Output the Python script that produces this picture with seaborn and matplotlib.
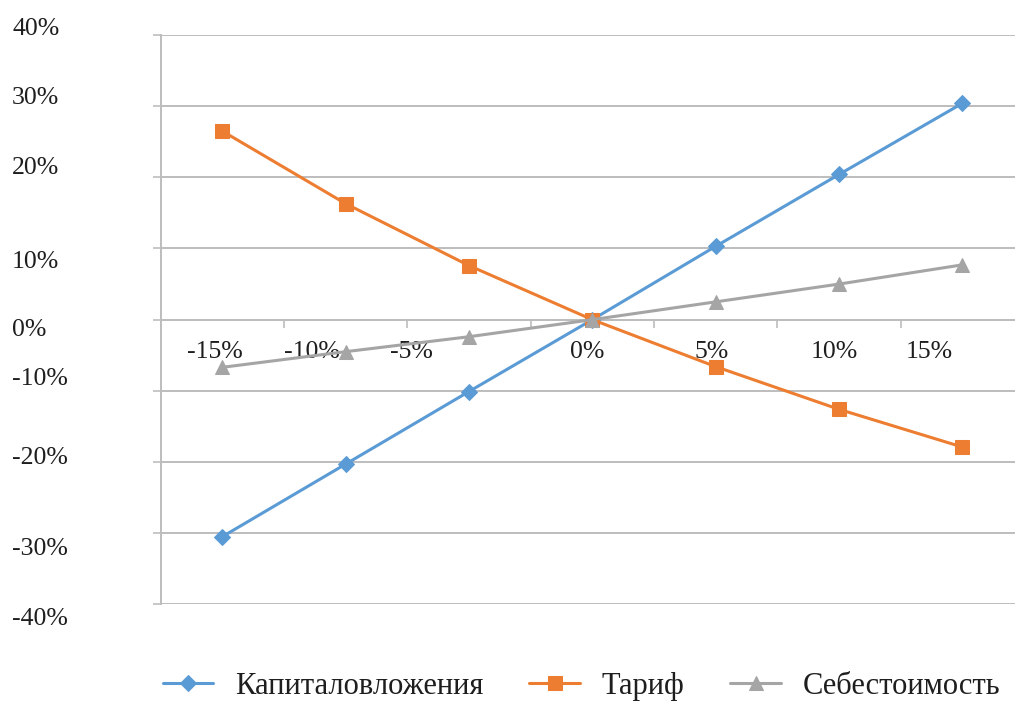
import numpy as np
import pandas as pd
import matplotlib
matplotlib.use("Agg")
import matplotlib.pyplot as plt
import seaborn as sns

# Change of the input parameter (category axis)
changes = ["-15%", "-10%", "-5%", "0%", "5%", "10%", "15%"]

# Resulting change of the indicator, % per series
capex = [-30.5, -20.3, -10.1, 0.0, 10.3, 20.4, 30.4]
tariff = [26.5, 16.3, 7.6, 0.0, -6.6, -12.6, -17.9]
cost = [-6.7, -4.5, -2.4, 0.0, 2.5, 5.0, 7.7]

series_names = ["Капиталовложения", "Тариф", "Себестоимость"]
series_values = [capex, tariff, cost]

y_ticks = [40, 30, 20, 10, 0, -10, -20, -30, -40]
y_tick_labels = ["40%", "30%", "20%", "10%", "0%", "-10%", "-20%", "-30%", "-40%"]

rows = []
for name, vals in zip(series_names, series_values):
    for i, v in enumerate(vals):
        rows.append({"pos": i, "change": changes[i], "value": v, "series": name})
df = pd.DataFrame(rows)

sns.set_theme(style="white")
plt.rcParams["font.family"] = ["Liberation Serif", "DejaVu Serif"]

colors = {"Капиталовложения": "#5B9BD5", "Тариф": "#ED7D31", "Себестоимость": "#A5A5A5"}
markers = {"Капиталовложения": "D", "Тариф": "s", "Себестоимость": "^"}
msizes = {"Капиталовложения": 8.5, "Тариф": 10, "Себестоимость": 10.5}

W, H = 1015, 702
fig = plt.figure(figsize=(W / 100, H / 100), dpi=100)
left_px, right_px, top_px, bottom_px = 160.6, 1024.0, 35.0, 604.3
ax = fig.add_axes([left_px / W, 1 - bottom_px / H,
                   (right_px - left_px) / W, (bottom_px - top_px) / H])

grid_col = "#BDBDBD"
for name in series_names:
    sub = df[df["series"] == name]
    sns.lineplot(data=sub, x="pos", y="value", ax=ax, color=colors[name],
                 marker=markers[name], markersize=msizes[name],
                 markeredgecolor=colors[name], linewidth=2.2,
                 label=name, legend=False, zorder=3)

ax.set_xlim(-0.5, 6.5)
ax.set_ylim(-40, 40)
ax.set_xlabel("")
ax.set_ylabel("")

# horizontal gridlines with outward ticks on the value axis
ax.set_yticks(y_ticks)
ax.yaxis.grid(True, color=grid_col, linewidth=1.4)
ax.xaxis.grid(False)
ax.tick_params(axis="y", which="major", length=6, width=1.2, color=grid_col,
               direction="out", labelleft=False, left=True)

# category axis crossing at zero, tick marks at category boundaries
ax.spines["bottom"].set_position(("data", 0))
ax.spines["bottom"].set_color(grid_col)
ax.spines["bottom"].set_linewidth(1.4)
ax.spines["left"].set_color(grid_col)
ax.spines["left"].set_linewidth(1.4)
ax.spines["top"].set_visible(False)
ax.spines["right"].set_visible(False)
ax.set_xticks(np.arange(-0.5, 7.0, 1.0))
ax.tick_params(axis="x", which="major", length=6, width=1.2, color=grid_col,
               direction="out", labelbottom=False, bottom=True)

text_col = "#1E1E1E"
fs = 18.5

# value axis labels
y_label_pos = [40.9, 31.1, 21.3, 8.1, -1.5, -8.3, -19.5, -32.2, -42.1]
for yp, lab in zip(y_label_pos, y_tick_labels):
    ax.text(-0.172, yp, lab, transform=ax.get_yaxis_transform(),
            ha="left", va="center", fontsize=fs, color=text_col, clip_on=False)

# category labels below the zero line
x_label_pos = [-0.06, 0.73, 1.53, 2.96, 3.97, 4.96, 5.73]
for xp, lab in zip(x_label_pos, changes):
    ax.text(xp, -4.6, lab, ha="center", va="center", fontsize=fs,
            color=text_col, clip_on=False, zorder=2)

handles, labels = ax.get_legend_handles_labels()
fig.legend(handles, labels, loc="center", bbox_to_anchor=(0.573, 0.022),
           ncol=3, frameon=False, fontsize=22, handlelength=1.65,
           columnspacing=1.5, handletextpad=0.72, labelcolor=text_col)

fig.savefig("out.png", dpi=100, facecolor="white")
